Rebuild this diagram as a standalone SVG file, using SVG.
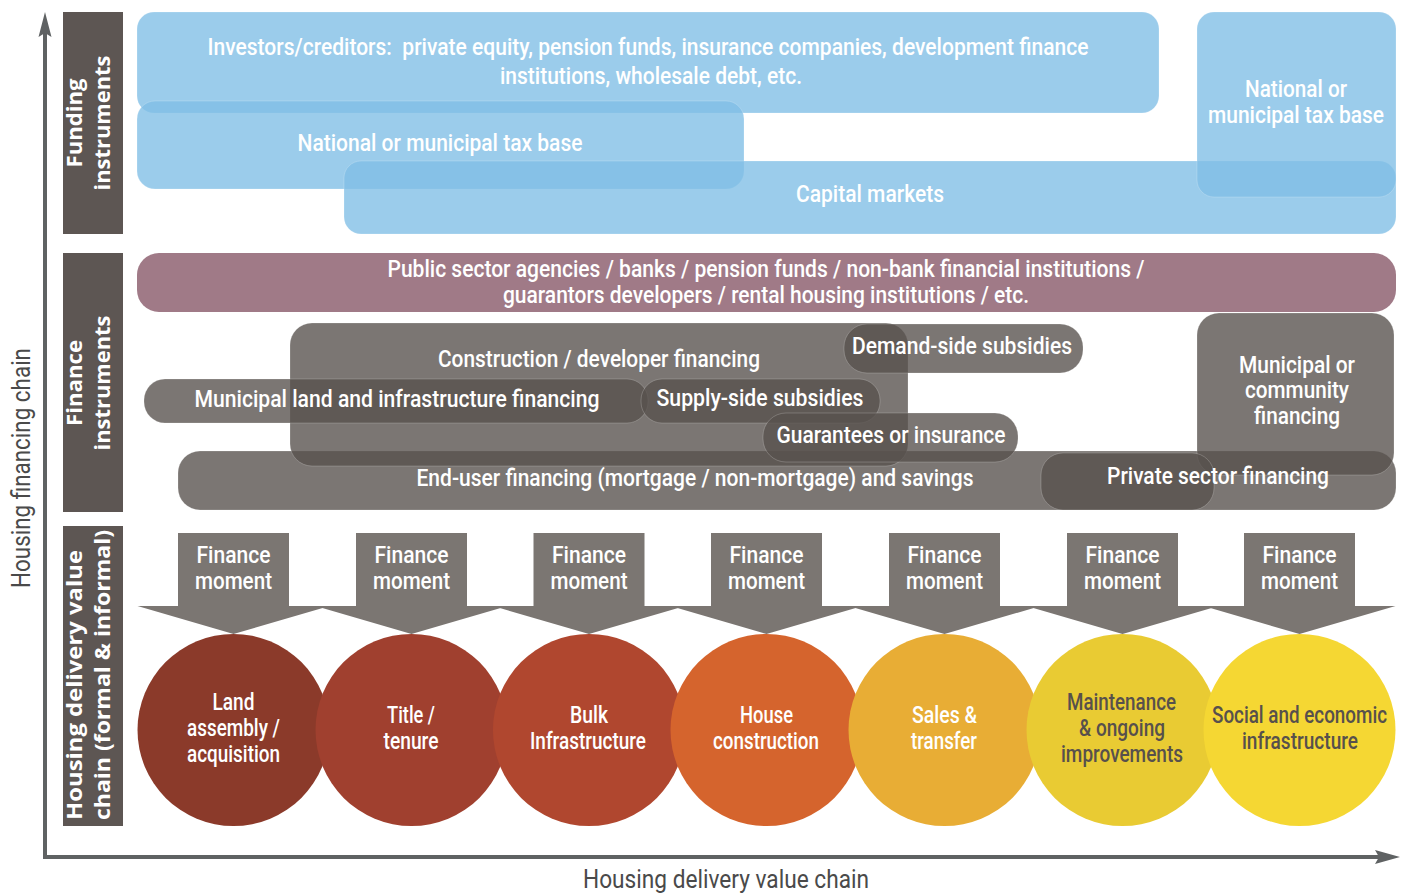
<svg xmlns="http://www.w3.org/2000/svg" width="1404" height="894" viewBox="0 0 1404 894">
<style>
.t{font-family:"Liberation Sans Narrow","Roboto","Liberation Sans",sans-serif;font-size:23px;font-weight:500;fill:#ffffff;text-anchor:middle}
.dk{fill:#57504c}
.ax{font-family:"Liberation Sans Narrow","Roboto","Liberation Sans",sans-serif;font-size:25px;fill:#4a4a4a;text-anchor:middle}
.lb{font-family:"Open Sans","DejaVu Sans",sans-serif;font-weight:bold;font-size:21px;fill:#ffffff}
.blue{fill:#80bee5;fill-opacity:0.79;stroke:#ffffff;stroke-opacity:0.25;stroke-width:0.8}
.gray{fill:#57514d;fill-opacity:0.79;stroke:#ffffff;stroke-opacity:0.25;stroke-width:0.8}
.lbox{fill:#5d5653}
.fm{fill:#7b7672}
.axis{stroke:#5f6263;stroke-width:4;fill:none}
</style>

<g id="axes">
  <path class="axis" d="M45,857 V32 M43,857 H1382"/>
  <polygon points="45,12 38.5,37 45,33 51.5,37" fill="#5f6263"/>
  <polygon points="1400,857 1375,850 1379,857 1375,864" fill="#5f6263"/>
  <text class="ax" transform="translate(30,468) rotate(-90)" textLength="240" lengthAdjust="spacingAndGlyphs">Housing financing chain</text>
  <text class="ax" x="726" y="888" textLength="286" lengthAdjust="spacingAndGlyphs">Housing delivery value chain</text>
</g>

<g id="label-funding">
  <rect class="lbox" x="63" y="12" width="60" height="222"/>
  <text class="lb" text-anchor="middle" transform="translate(82,123) rotate(-90)" textLength="89" lengthAdjust="spacingAndGlyphs">Funding</text>
  <text class="lb" text-anchor="middle" transform="translate(110,123) rotate(-90)" textLength="135" lengthAdjust="spacingAndGlyphs">instruments</text>
</g>
<g id="label-finance">
  <rect class="lbox" x="63" y="253" width="60" height="259"/>
  <text class="lb" text-anchor="middle" transform="translate(82,383) rotate(-90)" textLength="86" lengthAdjust="spacingAndGlyphs">Finance</text>
  <text class="lb" text-anchor="middle" transform="translate(110,383) rotate(-90)" textLength="135" lengthAdjust="spacingAndGlyphs">instruments</text>
</g>
<g id="label-delivery">
  <rect class="lbox" x="63" y="526" width="60" height="300"/>
  <text class="lb" transform="translate(82,820) rotate(-90)" textLength="270" lengthAdjust="spacingAndGlyphs">Housing delivery value</text>
  <text class="lb" transform="translate(110,820) rotate(-90)" textLength="290" lengthAdjust="spacingAndGlyphs">chain (formal &amp; informal)</text>
</g>

<g id="funding-boxes">
  <rect id="investors" class="blue" x="137" y="12" width="1022" height="101" rx="17"/>
  <rect id="tax-left" class="blue" x="137" y="101" width="607" height="88" rx="18"/>
  <rect id="capital-markets" class="blue" x="344" y="161" width="1052" height="73" rx="17"/>
  <rect id="tax-right" class="blue" x="1197" y="12" width="199" height="185" rx="17"/>
  <text class="t" x="648" y="55" textLength="881" lengthAdjust="spacingAndGlyphs">Investors/creditors:&#160; private equity, pension funds, insurance companies, development finance</text>
  <text class="t" x="651" y="84" textLength="302" lengthAdjust="spacingAndGlyphs">institutions, wholesale debt, etc.</text>
  <text class="t" x="440" y="151" textLength="285" lengthAdjust="spacingAndGlyphs">National or municipal tax base</text>
  <text class="t" x="870" y="202" textLength="148" lengthAdjust="spacingAndGlyphs">Capital markets</text>
  <text class="t" x="1296" y="97" textLength="102" lengthAdjust="spacingAndGlyphs">National or</text>
  <text class="t" x="1296" y="123" textLength="176" lengthAdjust="spacingAndGlyphs">municipal tax base</text>
</g>

<g id="finance-boxes">
  <rect id="institutions" x="137" y="253" width="1259" height="59" rx="22" fill="#a07a87"/>
  <text class="t" x="766" y="277" textLength="757" lengthAdjust="spacingAndGlyphs">Public sector agencies / banks / pension funds / non-bank financial institutions /</text>
  <text class="t" x="766" y="303" textLength="526" lengthAdjust="spacingAndGlyphs">guarantors developers / rental housing institutions / etc.</text>

  <rect id="end-user" class="gray" x="178" y="451" width="1218" height="59" rx="22"/>
  <rect id="construction" class="gray" x="290" y="323" width="618" height="143" rx="22"/>
  <rect id="municipal-land" class="gray" x="144" y="379" width="504" height="44" rx="21"/>
  <rect id="supply-side" class="gray" x="641" y="379" width="239" height="44" rx="21"/>
  <rect id="demand-side" class="gray" x="844" y="324" width="239" height="49" rx="23"/>
  <rect id="guarantees" class="gray" x="763" y="413" width="255" height="49" rx="23"/>
  <rect id="municipal-community" class="gray" x="1197" y="313" width="197" height="162" rx="22"/>
  <rect id="private-sector" class="gray" x="1041" y="453" width="173" height="57" rx="22"/>

  <text class="t" x="599" y="367" textLength="322" lengthAdjust="spacingAndGlyphs">Construction / developer financing</text>
  <text class="t" x="397" y="407" textLength="405" lengthAdjust="spacingAndGlyphs">Municipal land and infrastructure financing</text>
  <text class="t" x="760" y="406" textLength="207" lengthAdjust="spacingAndGlyphs">Supply-side subsidies</text>
  <text class="t" x="962" y="354" textLength="220" lengthAdjust="spacingAndGlyphs">Demand-side subsidies</text>
  <text class="t" x="891" y="443" textLength="229" lengthAdjust="spacingAndGlyphs">Guarantees or insurance</text>
  <text class="t" x="695" y="486" textLength="557" lengthAdjust="spacingAndGlyphs">End-user financing (mortgage / non-mortgage) and savings</text>
  <text class="t" x="1297" y="373" textLength="116" lengthAdjust="spacingAndGlyphs">Municipal or</text>
  <text class="t" x="1297" y="398" textLength="104" lengthAdjust="spacingAndGlyphs">community</text>
  <text class="t" x="1297" y="424" textLength="86" lengthAdjust="spacingAndGlyphs">financing</text>
  <text class="t" x="1218" y="484" textLength="222" lengthAdjust="spacingAndGlyphs">Private sector financing</text>
</g>

<defs>
  <polygon id="fm-shape" points="-55.5,533 55.5,533 55.5,606 96,606 0,634 -96,606 -55.5,606"/>
</defs>

<g id="finance-moments">
  <g id="fm1" transform="translate(233.5,0)"><use href="#fm-shape" class="fm"/><text class="t" y="563" textLength="74" lengthAdjust="spacingAndGlyphs">Finance</text><text class="t" y="589" textLength="77" lengthAdjust="spacingAndGlyphs">moment</text></g>
  <g id="fm2" transform="translate(411.5,0)"><use href="#fm-shape" class="fm"/><text class="t" y="563" textLength="74" lengthAdjust="spacingAndGlyphs">Finance</text><text class="t" y="589" textLength="77" lengthAdjust="spacingAndGlyphs">moment</text></g>
  <g id="fm3" transform="translate(589,0)"><use href="#fm-shape" class="fm"/><text class="t" y="563" textLength="74" lengthAdjust="spacingAndGlyphs">Finance</text><text class="t" y="589" textLength="77" lengthAdjust="spacingAndGlyphs">moment</text></g>
  <g id="fm4" transform="translate(766.5,0)"><use href="#fm-shape" class="fm"/><text class="t" y="563" textLength="74" lengthAdjust="spacingAndGlyphs">Finance</text><text class="t" y="589" textLength="77" lengthAdjust="spacingAndGlyphs">moment</text></g>
  <g id="fm5" transform="translate(944.5,0)"><use href="#fm-shape" class="fm"/><text class="t" y="563" textLength="74" lengthAdjust="spacingAndGlyphs">Finance</text><text class="t" y="589" textLength="77" lengthAdjust="spacingAndGlyphs">moment</text></g>
  <g id="fm6" transform="translate(1122.5,0)"><use href="#fm-shape" class="fm"/><text class="t" y="563" textLength="74" lengthAdjust="spacingAndGlyphs">Finance</text><text class="t" y="589" textLength="77" lengthAdjust="spacingAndGlyphs">moment</text></g>
  <g id="fm7" transform="translate(1299.5,0)"><use href="#fm-shape" class="fm"/><text class="t" y="563" textLength="74" lengthAdjust="spacingAndGlyphs">Finance</text><text class="t" y="589" textLength="77" lengthAdjust="spacingAndGlyphs">moment</text></g>
</g>

<g id="stages">
  <g id="stage-land">
    <circle cx="233.5" cy="730" r="96" fill="#8b3a2a"/>
    <text class="t" x="233.5" y="710" textLength="42" lengthAdjust="spacingAndGlyphs">Land</text>
    <text class="t" x="233.5" y="736" textLength="93" lengthAdjust="spacingAndGlyphs">assembly /</text>
    <text class="t" x="233.5" y="762" textLength="93" lengthAdjust="spacingAndGlyphs">acquisition</text>
  </g>
  <g id="stage-title">
    <circle cx="411.5" cy="730" r="96" fill="#a0402f"/>
    <text class="t" x="411" y="723" textLength="48" lengthAdjust="spacingAndGlyphs">Title /</text>
    <text class="t" x="411" y="749" textLength="55" lengthAdjust="spacingAndGlyphs">tenure</text>
  </g>
  <g id="stage-bulk">
    <circle cx="589" cy="730" r="96" fill="#b0472f"/>
    <text class="t" x="589" y="723" textLength="38" lengthAdjust="spacingAndGlyphs">Bulk</text>
    <text class="t" x="588" y="749" textLength="116" lengthAdjust="spacingAndGlyphs">Infrastructure</text>
  </g>
  <g id="stage-house">
    <circle cx="766.5" cy="730" r="96" fill="#d5642d"/>
    <text class="t" x="766.5" y="723" textLength="53" lengthAdjust="spacingAndGlyphs">House</text>
    <text class="t" x="766" y="749" textLength="106" lengthAdjust="spacingAndGlyphs">construction</text>
  </g>
  <g id="stage-sales">
    <circle cx="944.5" cy="730" r="96" fill="#e8ad35"/>
    <text class="t" x="944.5" y="723" textLength="65" lengthAdjust="spacingAndGlyphs">Sales &amp;</text>
    <text class="t" x="944" y="749" textLength="66" lengthAdjust="spacingAndGlyphs">transfer</text>
  </g>
  <g id="stage-maintenance">
    <circle cx="1122.5" cy="730" r="96" fill="#e9cb33"/>
    <text class="t dk" x="1121.5" y="710" textLength="109" lengthAdjust="spacingAndGlyphs">Maintenance</text>
    <text class="t dk" x="1122" y="736" textLength="86" lengthAdjust="spacingAndGlyphs">&amp; ongoing</text>
    <text class="t dk" x="1122" y="762" textLength="122" lengthAdjust="spacingAndGlyphs">improvements</text>
  </g>
  <g id="stage-social">
    <circle cx="1299.5" cy="730" r="96" fill="#f5d733"/>
    <text class="t dk" x="1299.5" y="723" textLength="175" lengthAdjust="spacingAndGlyphs">Social and economic</text>
    <text class="t dk" x="1300" y="749" textLength="116" lengthAdjust="spacingAndGlyphs">infrastructure</text>
  </g>
</g>
</svg>
